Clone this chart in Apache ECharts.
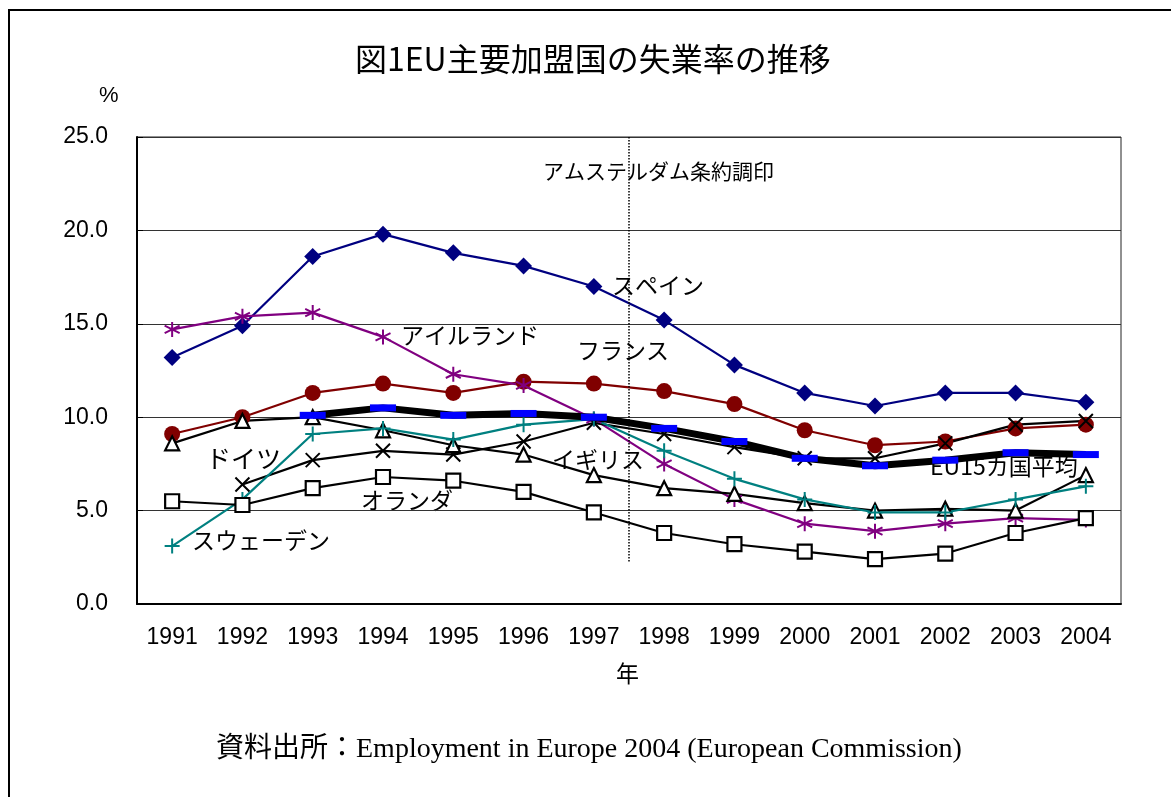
<!DOCTYPE html>
<html><head><meta charset="utf-8">
<script src="https://cdn.jsdelivr.net/npm/echarts@6/dist/echarts.min.js"></script>
<style>html,body{margin:0;padding:0;background:#fff}#c{width:1171px;height:797px}</style>
</head><body><div id="c"></div>
<script>
const years = ['1991','1992','1993','1994','1995','1996','1997','1998','1999','2000','2001','2002','2003','2004'];
const spain       = [13.2,14.9,18.6,19.8,18.8,18.1,17.0,15.2,12.8,11.3,10.6,11.3,11.3,10.8];
const ireland     = [14.7,15.4,15.6,14.3,12.3,11.7,9.9,7.5,5.6,4.3,3.9,4.3,4.6,4.5];
const france      = [9.1,10.0,11.3,11.8,11.3,11.9,11.8,11.4,10.7,9.3,8.5,8.7,9.4,9.6];
const eu15        = [null,null,10.1,10.5,10.1,10.2,10.0,9.4,8.7,7.8,7.4,7.7,8.1,8.0];
const germany     = [null,6.4,7.7,8.2,8.0,8.7,9.7,9.1,8.4,7.8,7.8,8.6,9.6,9.8];
const uk          = [8.6,9.8,10.0,9.3,8.5,8.0,6.9,6.2,5.9,5.4,5.0,5.1,5.0,6.9];
const sweden      = [3.1,5.6,9.1,9.4,8.8,9.6,9.9,8.2,6.7,5.6,4.9,4.9,5.6,6.3];
const netherlands = [5.5,5.3,6.2,6.8,6.6,6.0,4.9,3.8,3.2,2.8,2.4,2.7,3.8,4.6];
const yTicks = [0,5,10,15,20,25];
// Amsterdam treaty marker: boundary between 1997 and 1998 (category index 7)
const treatyBoundary = 7;
const treatyLineFrom = 25, treatyLineTo = 2.2;

const JP = "'Noto Sans CJK JP', sans-serif";
const chart = echarts.init(document.getElementById('c'), null, {renderer:'canvas'});

function lineSeries(name, data, color, symbol, size, item, lw, z){
  return {
    name, type:'line', data, xAxisIndex:0, yAxisIndex:0,
    symbol, symbolSize:size, showSymbol:true, connectNulls:false,
    lineStyle:{color, width:lw||2.2},
    itemStyle:Object.assign({color}, item||{}),
    emphasis:{disabled:true}, z:z||2, silent:true
  };
}
const asterisk = 'path://M5,0L5,10M0.7,2.5L9.3,7.5M9.3,2.5L0.7,7.5';
const cross = 'path://M0,0L10,10M10,0L0,10';
const plus = 'path://M5,0L5,10M0,5L10,5';

const labelStyle = (text, x, y, size) => ({
  type:'text', left:x, top:y - (size||22)/2 - 2,
  style:{text, font:`${size||22}px ${JP}`, fill:'#000'}
});

chart.setOption({
  animation:false,
  backgroundColor:'#fff',
  grid:{left:137, top:137, right:50, bottom:193, show:true, borderColor:'#222', borderWidth:1, containLabel:false},
  xAxis:[{
    type:'category', data:years, boundaryGap:true,
    axisLine:{lineStyle:{color:'#000', width:2}},
    axisTick:{inside:true, length:7, lineStyle:{color:'#000', width:1}},
    axisLabel:{color:'#000', fontSize:23, fontFamily:"'Liberation Sans', Arial", margin:22},
    splitLine:{show:false}
  },{
    type:'value', min:0, max:years.length, show:false
  }],
  yAxis:[{
    type:'value', min:yTicks[0], max:yTicks[yTicks.length-1], interval:5,
    axisLine:{show:true, lineStyle:{color:'#000', width:2}},
    axisTick:{show:true, inside:true, length:6, lineStyle:{color:'#000'}},
    axisLabel:{color:'#000', fontSize:23, fontFamily:"'Liberation Sans', Arial", margin:29, formatter:v=>v.toFixed(1)},
    splitLine:{show:true, lineStyle:{color:'#333', width:1}}
  }],
  series:[
    lineSeries('スペイン', spain, '#000080', 'diamond', 17),
    lineSeries('フランス', france, '#800000', 'circle', 16),
    lineSeries('アイルランド', ireland, '#800080', asterisk, 15, {borderColor:'#800080', borderWidth:2}),
    lineSeries('ドイツ', germany, '#000', cross, 14, {borderColor:'#000', borderWidth:2}),
    Object.assign(lineSeries('イギリス', uk, '#000', 'triangle', 14, {color:'#fff', borderColor:'#000', borderWidth:2.2}), {lineStyle:{color:'#000', width:2.2}}),
    lineSeries('スウェーデン', sweden, '#008080', plus, 15, {borderColor:'#008080', borderWidth:2}),
    Object.assign(lineSeries('オランダ', netherlands, '#000', 'rect', 14, {color:'#fff', borderColor:'#000', borderWidth:2.2}), {lineStyle:{color:'#000', width:2.2}}),
    Object.assign(lineSeries('EU15カ国平均', eu15, '#0000ff', 'rect', [26,7], {color:'#0000ff'}), {lineStyle:{color:'#000', width:7}, z:5}),
    {
      type:'line', xAxisIndex:1, yAxisIndex:0, data:[], silent:true,
      markLine:{
        silent:true, symbol:['none','none'], label:{show:false},
        lineStyle:{type:'dotted', color:'#000', width:1.5},
        data:[[{coord:[treatyBoundary, treatyLineFrom]},{coord:[treatyBoundary, treatyLineTo]}]]
      }
    }
  ],
  graphic:[
    {type:'rect', shape:{x:9, y:10, width:1300, height:1000}, style:{fill:'none', stroke:'#000', lineWidth:2}, z:-1},
    {type:'text', left:355, top:43, style:{text:'図1EU主要加盟国の失業率の推移', font:`32px ${JP}`, fill:'#000'}},
    {type:'text', left:99, top:85, style:{text:'%', font:`22px 'Liberation Sans', Arial`, fill:'#000'}},
    {type:'text', left:616, top:662, style:{text:'年', font:`23px ${JP}`, fill:'#000'}},
    {type:'text', left:216, top:736, style:{text:'資料出所：Employment in Europe 2004 (European Commission)', font:`28px 'Liberation Serif', 'Noto Sans CJK JP', serif`, fill:'#000'}},
    labelStyle('アムステルダム条約調印', 543, 173, 21),
    labelStyle('スペイン', 612, 287, 23),
    labelStyle('アイルランド', 401, 337, 23),
    labelStyle('フランス', 577, 352, 23),
    labelStyle('ドイツ', 206, 460, 25),
    labelStyle('イギリス', 552, 461, 23),
    labelStyle('オランダ', 361, 502, 23),
    labelStyle('スウェーデン', 192, 542, 23),
    labelStyle('EU15カ国平均', 930, 468, 23)
  ]
});
</script>
</body></html>
